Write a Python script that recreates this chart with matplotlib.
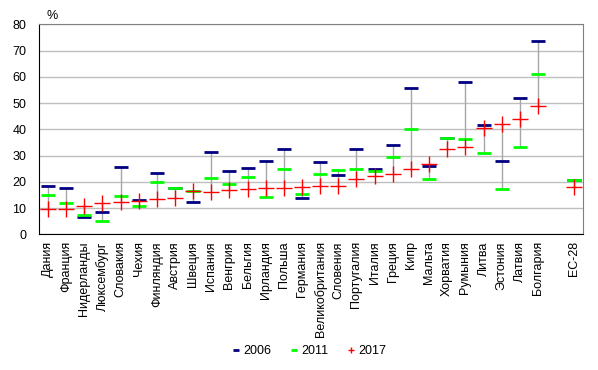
import numpy as np
import matplotlib.pyplot as plt

plt.rcParams['font.family'] = ['Liberation Sans', 'DejaVu Sans']

# data (%)
countries = ["Дания", "Франция", "Нидерланды", "Люксембург", "Словакия", "Чехия",
             "Финляндия", "Австрия", "Швеция", "Испания", "Венгрия", "Бельгия",
             "Ирландия", "Польша", "Германия", "Великобритания", "Словения",
             "Португалия", "Италия", "Греция", "Кипр", "Мальта", "Хорватия",
             "Румыния", "Литва", "Эстония", "Латвия", "Болгария", "", "ЕС-28"]
y2006 = [18.5, 17.8, 6.6, 8.6, 25.8, 13.1, 23.5, 17.8, 12.4, 31.4, 24.1, 25.3,
         28.0, 32.6, 13.9, 27.5, 22.7, 32.6, 24.9, 34.1, 55.7, 26.1, 36.8,
         58.1, 41.6, 27.9, 51.9, 73.6, np.nan, 20.7]
y2011 = [15.1, 12.0, 7.4, 5.2, 14.7, 10.8, 19.9, 17.8, 16.6, 21.6, 19.3, 21.9,
         14.3, 25.0, 15.5, 23.1, 24.6, 25.0, 24.2, 29.6, 40.2, 21.1, 36.8,
         36.4, 31.1, 17.3, 33.4, 61.2, np.nan, 20.7]
y2017 = [9.5, 9.5, 10.8, 12.0, 12.3, 12.6, 13.3, 13.7, 16.5, 16.2, 17.0, 17.3,
         17.5, 17.5, 17.9, 18.3, 18.3, 20.9, 22.1, 23.0, 24.8, 26.7, 32.6,
         33.4, 40.5, 41.9, 44.0, 48.8, np.nan, 18.1]

x = np.arange(len(countries))
vals = np.array([y2006, y2011, y2017], dtype=float)
lo = np.nanmin(vals, axis=0)
hi = np.nanmax(vals, axis=0)

fig = plt.figure(figsize=(5.98, 3.70), dpi=100)
ax = fig.add_axes([0.0652, 0.3668, 0.9102, 0.5675])

# high-low lines, then the three years
ax.vlines(x, lo, hi, color='#a6a6a6', linewidth=1.0, zorder=2)
ax.plot(x, y2006, linestyle='none', marker='_', markersize=9.5, markeredgewidth=2.0,
        color='#000080', label='2006', zorder=3)
ax.plot(x, y2011, linestyle='none', marker='_', markersize=9.5, markeredgewidth=2.0,
        color='#00ff00', label='2011', zorder=4)
ax.plot(x, y2017, linestyle='none', marker='+', markersize=11, markeredgewidth=1.0,
        color='#ff0000', label='2017', zorder=5)

ax.set_xlim(-0.5, len(countries) - 0.5)
ax.set_ylim(0, 80)
ax.set_yticks(range(0, 81, 10))
ax.yaxis.grid(True, color='#bfbfbf', linewidth=1.0)
ax.set_axisbelow(True)
ax.tick_params(axis='y', length=0, pad=9, labelsize=9)
ax.set_xticks(x)
ax.set_xticklabels(countries, rotation=90, fontsize=9)
ax.tick_params(axis='x', length=0, pad=5)

for side in ['top', 'right']:
    ax.spines[side].set_color('#808080')
for side in ['left', 'bottom']:
    ax.spines[side].set_color('black')

ax.text(0.0785, 0.957, '%', transform=fig.transFigure, fontsize=9,
        ha='left', va='center')

fig.legend(loc='center', bbox_to_anchor=(0.518, 0.051), ncol=3, frameon=False,
           fontsize=9, handlelength=0.5, handletextpad=0.3, columnspacing=1.6,
           markerscale=0.45)

fig.savefig('out.png', dpi=100)
